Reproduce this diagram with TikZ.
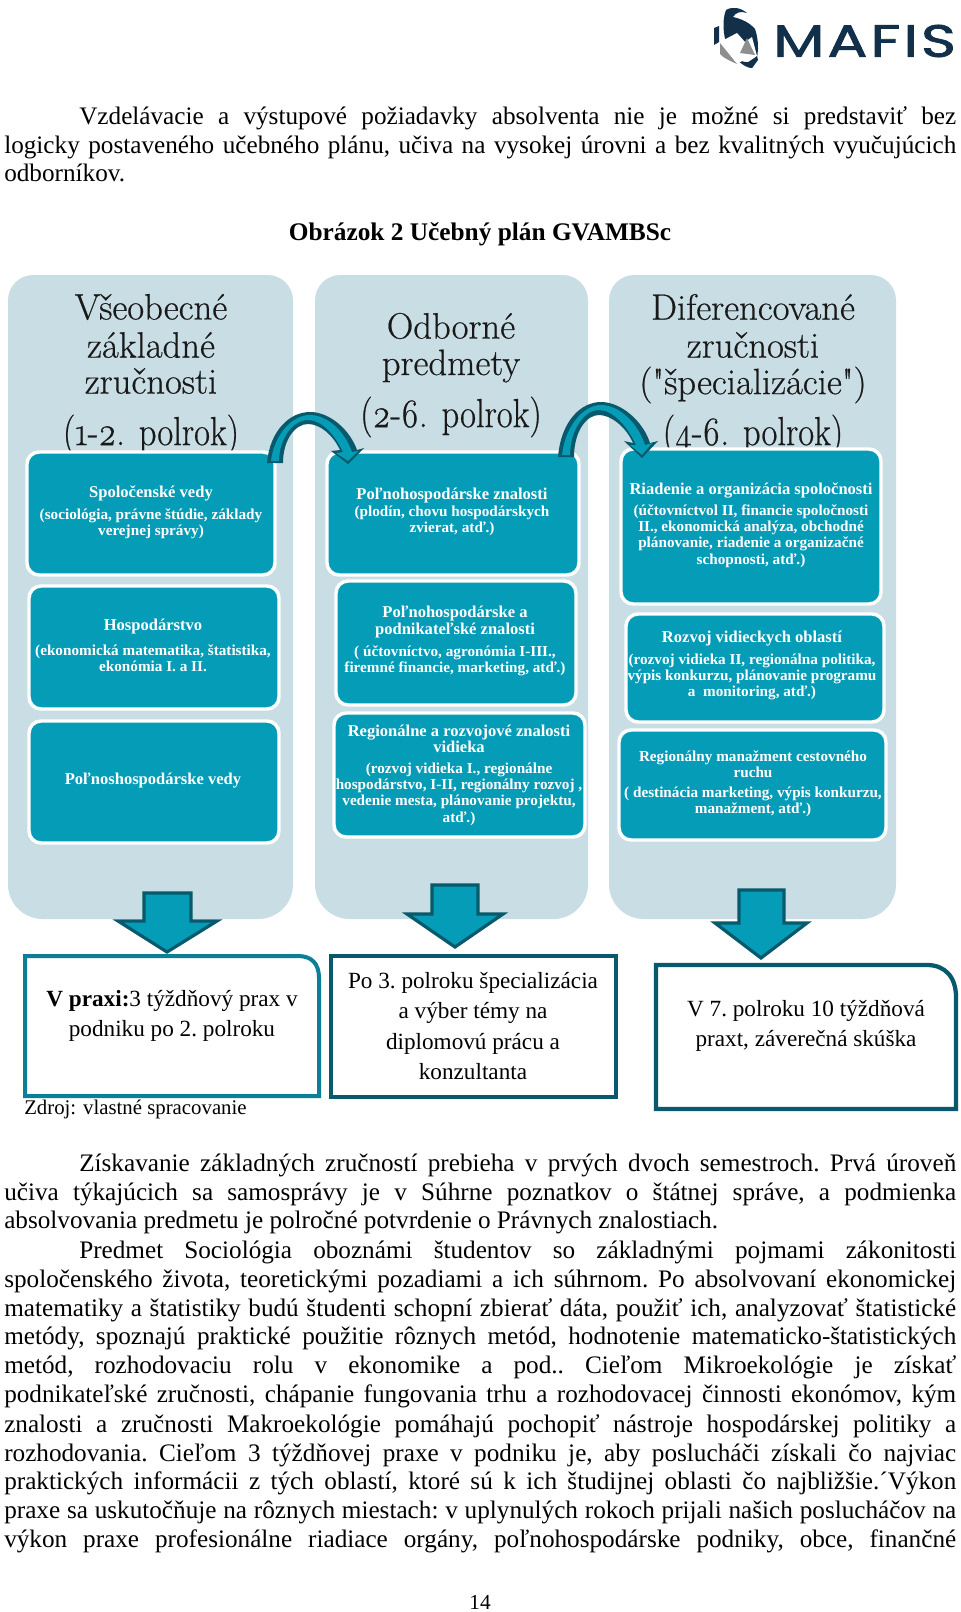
\documentclass[tikz,border=0pt]{standalone}
\usepackage{fontspec}
\setmainfont{Liberation Serif}
\newfontfamily\lmf[Numbers=OldStyle,FakeBold=0.5]{Latin Modern Roman}
\newfontfamily\lmp[Numbers=OldStyle,FakeBold=0.5,FakeStretch=0.85]{Latin Modern Roman}
\newfontfamily\logof[LetterSpace=5,FakeBold=1.6]{Poppins}
\definecolor{panelc}{HTML}{C9DDE5}
\definecolor{boxc}{HTML}{059CB7}
\definecolor{darkc}{HTML}{07596B}
\definecolor{edgec}{HTML}{0A7F95}
\definecolor{navy}{HTML}{12304A}
\definecolor{grayl}{HTML}{8E8E8E}
\tikzset{
 x=0.75pt,y=-0.75pt,
 panel/.style={fill=panelc,draw=none},
 inbox/.style={fill=boxc,draw=white,line width=2.6pt,rounded corners=9pt},
 hd/.style={inner sep=0pt,font=\lmf\fontsize{27.5}{27}\selectfont,text=black!90},
 hdp/.style={inner sep=0pt,font=\lmp\fontsize{30.5}{30}\selectfont,text=black!90},
 ih/.style={inner sep=0pt,align=center,text=white,font=\bfseries\fontsize{12.4}{12.2}\selectfont},
 it/.style={inner sep=0pt,align=center,text=white,font=\bfseries\fontsize{11.4}{12.2}\selectfont},
 body/.style={inner sep=0pt,anchor=base west,font=\frenchspacing\fontsize{18.9}{22}\selectfont},
 bt/.style={inner sep=0pt,align=center,font=\frenchspacing\fontsize{17.4}{22.6}\selectfont},
 barrow/.style={fill=boxc,draw=darkc,line width=2.4pt,line join=miter},
 darkfill/.style={fill=darkc,draw=none},
 bandfill/.style={fill=boxc,draw=none},
}
\newcommand\jA[3]{\node[body] (#1) at (79,#2) {\makebox[657.75pt][s]{#3}};}
\newcommand\jB[3]{\node[body] (#1) at (4,#2) {\makebox[714pt][s]{#3}};}
\begin{document}
\begin{tikzpicture}
\useasboundingbox (0,0) rectangle (960,1612);
\fill[white] (0,0) rectangle (960,1612);
% logo
\fill[navy] (726,10) .. controls (733,6) and (741,8) .. (747,13) .. controls (741,11) and (736,12) .. (733,17) .. controls (742,19) and (750,23) .. (755,29) .. controls (759,40) and (760,58) .. (752,68) .. controls (743,68) and (732,56) .. (727,45) .. controls (723,35) and (722,20) .. (726,10) -- cycle;
\fill[navy] (714,28) -- (719,26) -- (719,42) -- (714,45) -- cycle;
\fill[white] (720,42) -- (737,33) -- (745,42) -- (752,37) -- (757,56) -- (748,62) -- (735,62) -- cycle;
\fill[navy] (745,62) .. controls (748,65) and (751,64) .. (757,56) -- (758,60) -- (752,68) .. controls (749,68) and (745,65) .. (741,61) -- cycle;
\fill[grayl] (720,43) -- (737,64) .. controls (730,61) and (722,57) .. (720,54) -- cycle;
\fill[grayl] (747,38) -- (755,55) -- (740,53) -- cycle;
\node[inner sep=0pt,anchor=west,text=navy] (logo) at (773,41) {\resizebox{137pt}{24pt}{\logof MAFIS}};
% intro
\jA{l1}{125}{Vzdelávacie a výstupové požiadavky absolventa nie je možné si predstaviť bez}
\jB{l2}{154}{logicky postaveného učebného plánu, učiva na vysokej úrovni a bez kvalitných vyučujúcich}
\node[body] (l3) at (4,182) {odborníkov.};
\node[inner sep=0pt,font=\bfseries\fontsize{19}{22}\selectfont] (title) at (480,234) {Obrázok 2 Učebný plán GVAMBSc};
% panels
\fill[panel,rounded corners=19pt] (8,600) -- (8,275) -- (293,275) -- (293,600) [rounded corners=26pt] -- (293,919) -- (8,919) -- cycle;
\fill[panel,rounded corners=19pt] (315,600) -- (315,275) -- (588,275) -- (588,600) [rounded corners=26pt] -- (588,919) -- (315,919) -- cycle;
\fill[panel,rounded corners=19pt] (609,600) -- (609,275) -- (896,275) -- (896,600) [rounded corners=26pt] -- (896,919) -- (609,919) -- cycle;
% headings
\node[hd] (h1a) at (151,307) {Všeobecné};
\node[hd] (h1b) at (151,345) {základné};
\node[hd] (h1c) at (151,381) {zručnosti};
\node[hdp] (h1d) at (151,435) {(1-2. polrok)};
\node[hd] (h2a) at (451,326) {Odborné};
\node[hd] (h2b) at (451,366) {predmety};
\node[hdp] (h2c) at (451,417) {(2-6. polrok)};
\node[hd] (h3a) at (753,307) {Diferencované};
\node[hd] (h3b) at (753,345) {zručnosti};
\node[hd] (h3c) at (753,385) {("špecializácie")};
\node[hdp] (h3d) at (753,435) {(4-6. polrok)};
% inner boxes
\draw[inbox] (27,452) rectangle (275,575);
\draw[inbox] (327,452) rectangle (579,575);
\draw[inbox] (621,449) rectangle (881,604);
\draw[inbox] (29,586) rectangle (279,709);
\draw[inbox] (336,581) rectangle (576,705);
\draw[inbox] (626,614) rectangle (884,722);
\draw[inbox] (29,721) rectangle (279,843);
\draw[inbox] (334,713) rectangle (585,837);
\draw[inbox] (619,730) rectangle (886,840);
% inner text
\node[ih] (t1a) at (151,493) {Spoločenské vedy};
\node[it] (t1b) at (151,524) {(sociológia, právne štúdie, základy\\verejnej správy)};
\node[ih] (t2a) at (452,496) {Poľnohospodárske znalosti};
\node[it] (t2b) at (452,521) {(plodín, chovu hospodárskych\\zvierat, atď.)};
\node[ih] (t3a) at (751,490) {Riadenie a organizácia spoločnosti};
\node[it] (t3b) at (751,536) {(účtovníctvol II, financie spoločnosti\\II., ekonomická analýza, obchodné\\plánovanie, riadenie a organizačné\\schopnosti, atď.)};
\node[ih] (t4a) at (153,627) {Hospodárstvo};
\node[it] (t4b) at (153,658) {(ekonomická matematika, štatistika,\\ekonómia I. a II.};
\node[ih] (t5a) at (153,781) {Poľnoshospodárske vedy};
\node[ih] (t6a) at (455,622) {Poľnohospodárske a\\podnikateľské znalosti};
\node[it] (t6b) at (455,661) {( účtovníctvo, agronómia I-III.,\\firemné financie, marketing, atď.)};
\node[ih] (t7a) at (459,739) {Regionálne a rozvojové znalosti\\vidieka};
\node[it] (t7b) at (459,794) {(rozvoj vidieka I., regionálne\\hospodárstvo, I-II, regionálny rozvoj ,\\vedenie mesta, plánovanie projektu,\\atď.)};
\node[ih] (t8a) at (752,639) {Rozvoj vidieckych oblastí};
\node[it] (t8b) at (752,677) {(rozvoj vidieka II, regionálna politika,\\výpis konkurzu, plánovanie programu\\a \ monitoring, atď.)};
\node[it] (t9a) at (753,764) {Regionálny manažment cestovného\\ruchu};
\node[it] (t9b) at (753,802) {( destinácia marketing, výpis konkurzu,\\manažment, atď.)};
% curved arrows
\fill[darkfill] (267,463) .. controls (270,430) and (290,412) .. (310,412) .. controls (330,412) and (350,430) .. (357,450) -- (364,448) -- (348,464) -- (331,451) -- (340,450) .. controls (333,435) and (320,424) .. (308,424) .. controls (295,424) and (283,440) .. (283,463) -- cycle;
\fill[bandfill] (271,461) .. controls (274,435) and (292,415) .. (310,415) .. controls (328,415) and (345,432) .. (352,452) -- (358,451) -- (348,461) -- (336,453) -- (343,452) .. controls (335,435) and (322,420) .. (308,420) .. controls (292,420) and (279,440) .. (279,461) -- cycle;
\fill[darkfill] (558,457) .. controls (561,421) and (581,402) .. (601,402) .. controls (621,402) and (643,421) .. (650,443) -- (658,441) -- (642,458) -- (624,441) -- (633,443) .. controls (626,427) and (611,415) .. (599,415) .. controls (586,415) and (574,432) .. (574,457) -- cycle;
\fill[bandfill] (562,455) .. controls (565,427) and (583,405) .. (601,405) .. controls (619,405) and (638,423) .. (645,445) -- (652,443) -- (642,455) -- (630,445) -- (636,445) .. controls (628,427) and (613,410) .. (599,410) .. controls (583,410) and (570,432) .. (570,455) -- cycle;
% block arrows
\draw[barrow] (144,893) -- (191,893) -- (191,921) -- (217,921) -- (167,952) -- (118,921) -- (144,921) -- cycle;
\draw[barrow] (432,885) -- (478,885) -- (478,914) -- (503,914) -- (455,947) -- (407,914) -- (432,914) -- cycle;
\draw[barrow] (739,890) -- (784,890) -- (784,923) -- (807,923) -- (761,958) -- (715,923) -- (739,923) -- cycle;
% lower boxes
\draw[edgec,line width=3pt,fill=white] (25,1096) -- (25,956) -- (298,956) .. controls (312,956) and (319,964) .. (319,978) -- (319,1096) -- cycle;
\draw[darkc,line width=3.4pt,fill=white] (331,956) rectangle (616,1097);
\draw[darkc,line width=3.2pt,fill=white] (656,1109) -- (656,965) -- (927,965) .. controls (945,965) and (956,977) .. (956,997) -- (956,1109) -- cycle;
\node[bt] (b1) at (172,1016) {\textbf{V praxi:}3 týždňový prax v\\podniku po 2. polroku};
\node[bt] (b2) at (473,1026) {Po 3. polroku špecializácia\\a výber témy na\\diplomovú prácu a\\konzultanta};
\node[bt] (b3) at (806,1026) {V 7. polroku 10 týždňová\\praxt, záverečná skúška};
\node[inner sep=0pt,anchor=west,font=\fontsize{15.6}{20}\selectfont] (src) at (24,1109) {Zdroj: vlastné spracovanie};
% lower text
\jA{p1}{1171}{Získavanie základných zručností prebieha v prvých dvoch semestroch. Prvá úroveň}
\jB{p2}{1200}{učiva týkajúcich sa samosprávy je v Súhrne poznatkov o štátnej správe, a~podmienka}
\node[body] (p3) at (4,1228) {absolvovania predmetu je polročné potvrdenie o Právnych znalostiach.};
\jA{p4}{1258}{Predmet Sociológia oboznámi študentov so základnými pojmami zákonitosti}
\jB{p5}{1287}{spoločenského života, teoretickými pozadiami a ich súhrnom. Po absolvovaní ekonomickej}
\jB{p6}{1316}{matematiky a štatistiky budú študenti schopní zbierať dáta, použiť ich, analyzovať štatistické}
\jB{p7}{1344}{metódy, spoznajú praktické použitie rôznych metód, hodnotenie matematicko-štatistických}
\jB{p8}{1373}{metód, rozhodovaciu rolu v~ekonomike a pod.. Cieľom Mikroekológie je získať}
\jB{p9}{1402}{podnikateľské zručnosti, chápanie fungovania trhu a rozhodovacej činnosti ekonómov, kým}
\jB{p10}{1432}{znalosti a zručnosti Makroekológie pomáhajú pochopiť nástroje hospodárskej politiky a}
\jB{p11}{1461}{rozhodovania. Cieľom 3 týždňovej praxe v podniku je, aby poslucháči získali čo najviac}
\jB{p12}{1489}{praktických informácii z tých oblastí, ktoré sú k ich študijnej oblasti čo najbližšie.´Výkon}
\jB{p13}{1518}{praxe sa uskutočňuje na rôznych miestach: v uplynulých rokoch prijali našich poslucháčov na}
\jB{p14}{1547}{výkon praxe profesionálne riadiace orgány, poľnohospodárske podniky, obce, finančné}
\node[inner sep=0pt,font=\fontsize{16}{20}\selectfont] (pg) at (480,1602) {14};
\end{tikzpicture}
\end{document}
